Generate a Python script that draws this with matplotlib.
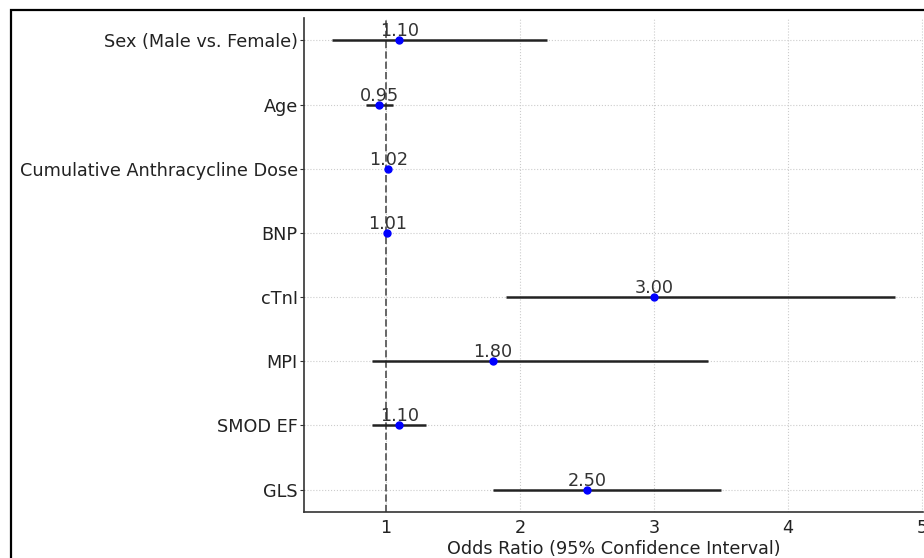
import matplotlib
matplotlib.use('Agg')
import matplotlib.pyplot as plt
from matplotlib.patches import Rectangle

variables = ['Sex (Male vs. Female)', 'Age', 'Cumulative Anthracycline Dose',
             'BNP', 'cTnI', 'MPI', 'SMOD EF', 'GLS']
odds_ratios = [1.10, 0.95, 1.02, 1.01, 3.00, 1.80, 1.10, 2.50]
ci_lower = [0.60, 0.85, 1.01, 1.00, 1.90, 0.90, 0.90, 1.80]
ci_upper = [2.20, 1.05, 1.03, 1.02, 4.80, 3.40, 1.30, 3.50]

W, H = 924, 558
fs = 12.7
fig = plt.figure(figsize=(W / 100, H / 100), dpi=100)
ax = fig.add_axes([304 / W, 1 - 512 / H, (923.5 - 304) / W, (512 - 18) / H])

# border of the original (cropped) figure
fig.patches.append(Rectangle((11 / W, -0.1), 1.2, 1 - 10 / H + 0.1,
                             transform=fig.transFigure, fill=False,
                             edgecolor='black', linewidth=1.6))

ypos = list(range(len(variables)))
xerr = [[o - l for o, l in zip(odds_ratios, ci_lower)],
        [u - o for o, u in zip(odds_ratios, ci_upper)]]

ax.errorbar(odds_ratios, ypos, xerr=xerr, fmt='o', color='blue',
            ecolor='#222222', elinewidth=1.8, capsize=0, markersize=5, zorder=3)
ax.axvline(1, color='#666666', linestyle='--', linewidth=1.4, zorder=2)

for o, y in zip(odds_ratios, ypos):
    ax.text(o, y, f'{o:.2f}', ha='center', va='bottom', fontsize=fs, color='#333333')

ax.set_yticks(ypos)
ax.set_yticklabels(variables, fontsize=fs)
ax.invert_yaxis()
ax.set_xticks([1, 2, 3, 4, 5])
ax.set_xticklabels(['1', '2', '3', '4', '5'], fontsize=fs)
ax.tick_params(axis='x', length=0, pad=5, colors='#222222')
ax.tick_params(axis='y', length=3, pad=1.5, color='#333333', labelcolor='#222222')
ax.set_xlabel('Odds Ratio (95% Confidence Interval)', fontsize=fs, color='#222222', labelpad=2)

ax.grid(True, linestyle=':', color='#cccccc', linewidth=0.8)
ax.set_axisbelow(True)
for side in ['top', 'right']:
    ax.spines[side].set_visible(False)
for side in ['left', 'bottom']:
    ax.spines[side].set_color('#333333')
    ax.spines[side].set_linewidth(1.2)

fig.savefig('out.png', dpi=100)
